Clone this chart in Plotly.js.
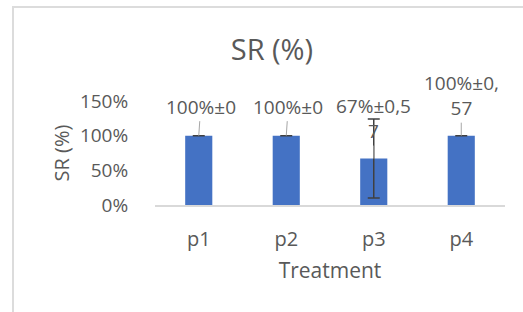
<!DOCTYPE html>
<html><head><meta charset="utf-8">
<script src="https://cdn.plot.ly/plotly-3.0.1.min.js"></script>
<style>
html,body{margin:0;padding:0;background:#fff;}
#wrap{position:relative;width:523px;height:312px;overflow:hidden;}
#chart{width:523px;height:312px;}
#frame{position:absolute;left:12px;top:6px;width:600px;height:400px;border:2px solid #dcdcdc;pointer-events:none;box-sizing:border-box;}
</style></head>
<body>
<div id="wrap"><div id="chart"></div><div id="frame"></div></div>
<script>
const categories = ['p1','p2','p3','p4'];
const values = [1.00, 1.00, 0.67, 1.00];
const errors = [0, 0, 0.57, 0];
const labels = ['100%±0', '100%±0', '67%±0,5<br>7', '100%±0,<br>57'];
const labelOffsets = [[2,-29],[2,-29],[0,-40],[0,-40]];

const font = "'Open Sans', sans-serif";
const grey = '#595959';

const trace = {
  type: 'bar',
  x: categories,
  y: values,
  marker: {color: '#4472C4'},
  width: 0.31,
  error_y: {type: 'data', array: errors, visible: true, color: '#404040', thickness: 1.5, width: 6},
  hoverinfo: 'none'
};

const annotations = categories.map((c, i) => ({
  x: c, y: values[i], xref: 'x', yref: 'y',
  text: labels[i], showarrow: true, arrowhead: 0, arrowwidth: 1, arrowcolor: '#a6a6a6',
  ax: labelOffsets[i][0], ay: labelOffsets[i][1],
  font: {family: font, size: 19, color: grey}
}));

const layout = {
  width: 523, height: 312,
  margin: {l: 155, r: 18, t: 101, b: 107},
  paper_bgcolor: '#fff', plot_bgcolor: '#fff',
  showlegend: false,
  title: {text: 'SR (%)', font: {family: font, size: 29, color: grey}, x: 0.52, xref: 'container', y: 1 - 50/312, yref: 'container', yanchor: 'middle'},
  xaxis: {
    type: 'category', range: [-0.5, 3.5],
    showline: true, linecolor: '#d9d9d9', linewidth: 1.5,
    ticks: 'outside', ticklen: 15, tickcolor: 'rgba(0,0,0,0)',
    tickfont: {family: font, size: 20, color: grey},
    title: {text: 'Treatment', font: {family: font, size: 21, color: grey}, standoff: 13},
    showgrid: false, zeroline: false
  },
  yaxis: {
    range: [0, 1.5], tickvals: [0, 0.5, 1, 1.5], tickformat: '.0%',
    showgrid: false, zeroline: false, showline: false,
    ticks: 'outside', ticklen: 22, tickcolor: 'rgba(0,0,0,0)',
    tickfont: {family: font, size: 19, color: grey},
    title: {text: 'SR (%)', font: {family: font, size: 20, color: grey}, standoff: 4}
  },
  annotations: annotations
};

Plotly.newPlot('chart', [trace], layout, {staticPlot: true, displayModeBar: false});
</script>
</body></html>
